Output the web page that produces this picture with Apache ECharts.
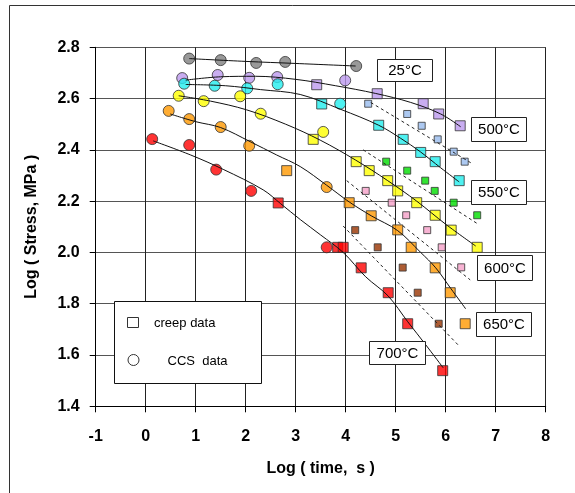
<!DOCTYPE html>
<html><head><meta charset="utf-8">
<script src="https://cdn.jsdelivr.net/npm/echarts@6/dist/echarts.min.js"></script>
<style>html,body{margin:0;padding:0;background:#fff}#c{width:575px;height:493px}</style>
</head><body><div id="c"></div>
<script>
// ---- tick labels ----
const xTickLabels = ['-1','0','1','2','3','4','5','6','7','8'];
const yTickLabels = ['1.4','1.6','1.8','2.0','2.2','2.4','2.6','2.8'];

// ---- CCS data (circles) [log time, log stress] ----
const ccs25  = [[0.87,2.756],[1.50,2.750],[2.21,2.739],[2.79,2.743],[4.21,2.727]];
const ccs500 = [[0.73,2.680],[1.44,2.692],[2.07,2.681],[2.63,2.684],[3.99,2.671]];
const ccs550 = [[0.77,2.658],[1.38,2.650],[2.03,2.640],[2.64,2.656],[3.89,2.580]];
const ccs600 = [[0.66,2.611],[1.16,2.590],[1.89,2.609],[2.30,2.541],[3.55,2.470]];
const ccs650 = [[0.46,2.552],[0.87,2.520],[1.50,2.489],[2.07,2.416],[3.62,2.255]];
const ccs700 = [[0.13,2.442],[0.87,2.419],[1.41,2.323],[2.11,2.240],[3.62,2.020]];

// ---- creep data (large squares) ----
const creep500 = [[3.42,2.654],[4.63,2.619],[5.55,2.580],[5.86,2.540],[6.29,2.494]];
const creep550 = [[3.52,2.579],[4.66,2.496],[5.15,2.441],[5.50,2.390],[5.79,2.354],[6.27,2.280]];
const creep600 = [[3.35,2.441],[4.21,2.354],[4.47,2.319],[4.84,2.280],[5.04,2.240],[5.42,2.194],[5.79,2.145],[6.11,2.087],[6.63,2.020]];
const creep650 = [[2.82,2.319],[4.07,2.194],[4.51,2.143],[5.04,2.088],[5.31,2.020],[5.79,1.940],[6.09,1.843],[6.39,1.722]];
const creep700 = [[2.65,2.193],[3.84,2.020],[3.95,2.020],[4.31,1.940],[4.85,1.843],[5.24,1.722],[5.94,1.539]];

// ---- second creep set (small squares) ----
const small500 = [[4.45,2.580],[5.23,2.540],[5.52,2.494],[5.84,2.441],[6.16,2.393],[6.38,2.354]];
const small550 = [[4.81,2.354],[5.23,2.319],[5.59,2.280],[5.78,2.240],[6.16,2.194],[6.63,2.145]];
const small600 = [[4.40,2.240],[4.92,2.194],[5.21,2.145],[5.63,2.087],[5.92,2.020],[6.31,1.942]];
const small650 = [[4.19,2.087],[4.64,2.020],[5.14,1.941],[5.44,1.843],[5.86,1.722]];

// ---- fitted curves (solid) ----
const fit25  = [[0.87,2.756],[2.0,2.745],[3.0,2.737],[4.2,2.727]];
const fit500 = [[0.8,2.672],[1.5,2.685],[2.2,2.687],[3.0,2.675],[3.8,2.650],[4.6,2.620],[5.3,2.585],[5.9,2.540],[6.3,2.490]];
const fit550 = [[0.8,2.655],[1.6,2.650],[2.3,2.635],[3.09,2.616],[3.9,2.558],[4.66,2.496],[5.1,2.445],[5.49,2.393],[5.9,2.330],[6.27,2.275]];
const fit600 = [[0.66,2.611],[1.3,2.590],[2.02,2.556],[2.8,2.500],[3.49,2.438],[4.2,2.360],[4.84,2.280],[5.42,2.200],[6.0,2.110],[6.6,2.025]];
const fit650 = [[0.49,2.540],[1.0,2.510],[1.5,2.487],[2.09,2.432],[2.62,2.380],[3.09,2.335],[3.62,2.262],[4.07,2.197],[4.51,2.143],[5.04,2.085],[5.5,2.000],[5.8,1.940],[6.1,1.860],[6.4,1.780]];
const fit700 = [[0.15,2.435],[0.9,2.380],[1.55,2.324],[2.35,2.244],[2.7,2.190],[3.1,2.127],[3.5,2.068],[3.95,2.000],[4.4,1.905],[4.85,1.830],[5.24,1.730],[5.6,1.640],[5.95,1.550]];

// ---- dashed fits for small squares ----
const dash500 = [[4.50,2.585],[6.50,2.350]];
const dash550 = [[4.35,2.400],[6.62,2.114]];
const dash600 = [[4.02,2.280],[6.49,1.893]];
const dash650 = [[3.95,2.103],[6.27,1.635]];

// ---- temperature labels ----
const tempLabels = ['25°C','500°C','550°C','600°C','650°C','700°C'];

const FONT = '"Liberation Sans", Arial, sans-serif';
const chart = echarts.init(document.getElementById('c'), null, {renderer:'canvas'});

function circles(data, color){
  return {type:'scatter', data, symbol:'circle', symbolSize:11, z:3,
    itemStyle:{color, borderColor:'#333', borderWidth:1}, silent:true};
}
function squares(data, color, size){
  return {type:'scatter', data, symbol:'rect', symbolSize:size, z:3,
    itemStyle:{color, borderColor:'#333', borderWidth:1}, silent:true};
}
function curve(data){
  return {type:'line', data, smooth:0.35, showSymbol:false, symbol:'none', z:5,
    lineStyle:{color:'#111', width:1}, silent:true};
}
function dashed(data){
  return {type:'line', data, showSymbol:false, symbol:'none', z:5,
    lineStyle:{color:'#222', width:1, type:[3,3]}, silent:true};
}

const C = {gray:'#808080', purple:'#BB99EE', cyan:'#22EEEE', yellow:'#FFFF00', orange:'#FF9900', red:'#FF0000',
  lblue:'#99BBEE', green:'#00DD00', pink:'#F5A0C8', brown:'#993300'};

const boxes = [
  {t:tempLabels[0], x:377, y:59,  w:55, h:22},
  {t:tempLabels[1], x:471, y:117, w:55, h:24},
  {t:tempLabels[2], x:471, y:180, w:55, h:24},
  {t:tempLabels[3], x:477, y:255, w:55, h:25},
  {t:tempLabels[4], x:476, y:312, w:55, h:24},
  {t:tempLabels[5], x:369, y:341, w:56, h:23}
];

const graphics = [
  {type:'line', shape:{x1:9.5,y1:5.5,x2:9.5,y2:493}, style:{stroke:'#333', lineWidth:1}, z:1},
  {type:'line', shape:{x1:9.5,y1:5.5,x2:575,y2:5.5}, style:{stroke:'#333', lineWidth:1}, z:1},
  // legend box
  {type:'rect', shape:{x:114.5,y:301.5,width:147,height:82}, style:{fill:'#fff', stroke:'#111', lineWidth:1}, z:10},
  {type:'rect', shape:{x:127.5,y:317.5,width:11,height:10}, style:{fill:'#fff', stroke:'#333', lineWidth:1}, z:11},
  {type:'text', x:154, y:323, style:{text:'creep data', font:'13px '+FONT, fill:'#000', verticalAlign:'middle'}, z:11},
  {type:'circle', shape:{cx:133.5,cy:360,r:5.5}, style:{fill:'#fff', stroke:'#333', lineWidth:1}, z:11},
  {type:'text', x:167.5, y:361, style:{text:'CCS  data', font:'13px '+FONT, fill:'#000', verticalAlign:'middle'}, z:11}
];
boxes.forEach(b=>{
  graphics.push({type:'rect', shape:{x:b.x+0.5,y:b.y+0.5,width:b.w,height:b.h}, style:{fill:'#fff', stroke:'#222', lineWidth:1}, z:10});
  graphics.push({type:'text', x:b.x+b.w/2+0.5, y:b.y+b.h/2+1, style:{text:b.t, font:'15px '+FONT, fill:'#000', align:'center', verticalAlign:'middle'}, z:11});
});

chart.setOption({
  animation:false,
  backgroundColor:'#fff',
  grid:{left:95.7, top:47.3, width:450, height:359, containLabel:false},
  xAxis:{type:'value', min:-1, max:8, interval:1,
    name:'Log ( time,  s )', nameLocation:'middle', nameGap:54,
    nameTextStyle:{fontFamily:FONT, fontWeight:'bold', fontSize:16, color:'#000'},
    axisLine:{show:true, onZero:false, lineStyle:{color:'#000', width:1}},
    axisTick:{show:true, inside:false, length:6, lineStyle:{color:'#000'}},
    axisLabel:{fontFamily:FONT, fontWeight:'bold', fontSize:16, color:'#000', margin:22,
      formatter:(v)=>{const i=Math.round(v+1); return xTickLabels[i]!==undefined?xTickLabels[i]:'';}},
    splitLine:{show:true, lineStyle:{color:'#222', width:1}}
  },
  yAxis:{type:'value', min:1.4, max:2.8, interval:0.2,
    name:'Log ( Stress, MPa )', nameLocation:'middle', nameGap:56, nameRotate:90,
    nameTextStyle:{fontFamily:FONT, fontWeight:'bold', fontSize:16, color:'#000'},
    axisLine:{show:true, onZero:false, lineStyle:{color:'#000', width:1}},
    axisTick:{show:true, inside:false, length:6, lineStyle:{color:'#000'}},
    axisLabel:{fontFamily:FONT, fontWeight:'bold', fontSize:16, color:'#000', margin:16,
      formatter:(v)=>{const i=Math.round((v-1.4)/0.2); return yTickLabels[i]!==undefined?yTickLabels[i]:'';}},
    splitLine:{show:true, lineStyle:{color:'#555', width:1}}
  },
  graphic:graphics,
  series:[
    circles(ccs25, C.gray), circles(ccs500, C.purple), circles(ccs550, C.cyan),
    circles(ccs600, C.yellow), circles(ccs650, C.orange), circles(ccs700, C.red),
    squares(creep500, C.purple, 10), squares(creep550, C.cyan, 10), squares(creep600, C.yellow, 10),
    squares(creep650, C.orange, 10), squares(creep700, C.red, 10),
    squares(small500, C.lblue, 7), squares(small550, C.green, 7), squares(small600, C.pink, 7), squares(small650, C.brown, 7),
    curve(fit25), curve(fit500), curve(fit550), curve(fit600), curve(fit650), curve(fit700),
    dashed(dash500), dashed(dash550), dashed(dash600), dashed(dash650)
  ]
});
</script></body></html>
